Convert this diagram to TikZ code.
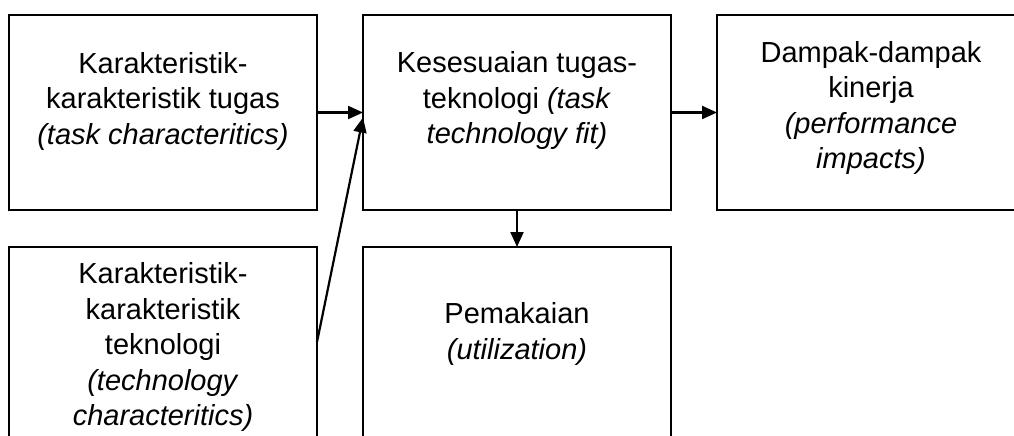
\documentclass[tikz,border=0pt]{standalone}
\usepackage{fontspec}
\setmainfont{Liberation Sans}
\usetikzlibrary{arrows.meta,calc}
\begin{document}
\begin{tikzpicture}[x=1pt,y=1pt,
  box/.style={draw=black,line width=2.2pt,minimum width=308pt,inner sep=0pt,outer sep=0pt},
  txt/.style={align=center,inner sep=0pt,font=\fontsize{29}{35.5}\selectfont},
  arr/.style={line width=2.2pt,-{Triangle[length=15pt,width=13pt]}}]
\useasboundingbox (0,0) rectangle (1014,-436);
\clip (0,0) rectangle (1014,-436);
\node[box,minimum height=195pt] (b1) at (163,-112.5) {};
\node[box,minimum height=195pt] (b2) at (517,-112.5) {};
\node[box,minimum height=195pt] (b3) at (871,-112.5) {};
\node[box,minimum height=204pt] (b4) at (163,-349) {};
\node[box,minimum height=204pt] (b5) at (517,-349) {};
\node[txt] (t1) at (163,-101) {Karakteristik-\\karakteristik tugas\\\textit{(task characteritics)}};
\node[txt] (t2) at (517,-101) {Kesesuaian tugas-\\teknologi \textit{(task}\\\textit{technology fit)}};
\node[txt] (t3) at (871,-108) {Dampak-dampak\\kinerja\\\textit{(performance}\\\textit{impacts)}};
\node[txt] (t4) at (163,-347) {Karakteristik-\\karakteristik\\teknologi\\\textit{(technology}\\\textit{characteritics)}};
\node[txt] (t5) at (517,-334) {Pemakaian\\\textit{(utilization)}};
\coordinate (s4) at ($(b4.north east)+(0,-95)$);
\coordinate (e4) at ($(b2.west)+(0,-5)$);
\draw[arr] (b1.east) -- (b2.west);
\draw[arr] (s4) -- (e4);
\draw[arr] (b2.east) -- (b3.west);
\draw[arr] (b2.south) -- (b5.north);
\end{tikzpicture}
\end{document}
